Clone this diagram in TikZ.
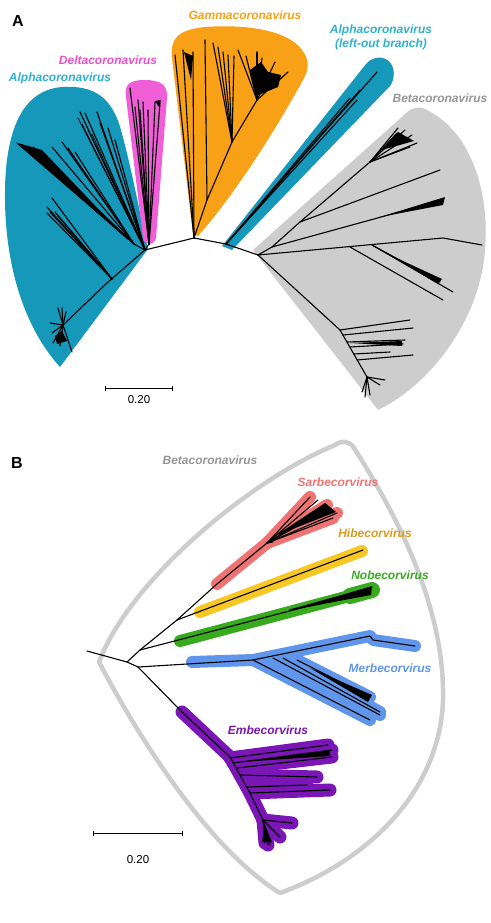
\documentclass[tikz,border=0pt]{standalone}
\usepackage{fontspec}
\setmainfont{Liberation Sans}
\usepackage{tikz}
\usetikzlibrary{positioning, arrows.meta}

\definecolor{alphateal}{RGB}{22,152,186}
\definecolor{alphatext}{RGB}{45,178,205}
\definecolor{deltapink}{RGB}{240,95,215}
\definecolor{deltatext}{RGB}{236,80,200}
\definecolor{gammaorange}{RGB}{248,160,22}
\definecolor{betagray}{RGB}{205,205,205}
\definecolor{betatext}{RGB}{150,150,150}
\definecolor{sarbered}{RGB}{240,115,115}
\definecolor{hibeyellow}{RGB}{247,200,35}
\definecolor{hibetext}{RGB}{215,155,30}
\definecolor{nobegreen}{RGB}{55,170,30}
\definecolor{merbeblue}{RGB}{95,150,235}
\definecolor{embepurple}{RGB}{122,22,182}

\begin{document}
\begin{tikzpicture}[x=1pt, y=-1pt]
    \tikzstyle{clade} = [
        font=\fontsize{12}{14}\selectfont\bfseries\itshape,
        align=center, inner sep=0pt
    ]
    \tikzstyle{panel} = [font=\fontsize{16}{18}\selectfont\bfseries, inner sep=0pt]
    \tikzstyle{branch} = [line width=1.1pt, line cap=round, line join=round]
    \tikzstyle{twig} = [line width=0.7pt, line cap=round]
    \tikzstyle{glow} = [line width=12pt, line cap=round, line join=round]
    \tikzstyle{scale_bar} = [line width=0.9pt, {Bar[width=5pt]}-{Bar[width=5pt]}]
    \tikzstyle{scale_text} = [font=\fontsize{11.5}{13}\selectfont, inner sep=0pt]

    \useasboundingbox (0,0) rectangle (490,923);

    %% Panel A
    \node[panel] (label_a) at (18,21) {A};

    % Clade shading
    \fill[alphateal] (60,367) .. controls (22,325) and (4,260) .. (5,190)
        .. controls (6,125) and (25,90) .. (62,87)
        .. controls (95,85) and (112,98) .. (121,130)
        .. controls (132,170) and (140,215) .. (148,249) -- cycle;
    \fill[deltapink] (143,238) -- (126,97) .. controls (124,84) and (130,80) .. (145,80)
        .. controls (162,80) and (168,86) .. (167,98) -- (156,238)
        .. controls (154,246) and (145,246) .. (143,238) -- cycle;
    \fill[gammaorange] (193,234) -- (172,58) .. controls (170,38) and (178,30) .. (205,27)
        .. controls (245,24) and (288,30) .. (302,50)
        .. controls (310,60) and (309,70) .. (303,80)
        .. controls (270,140) and (230,200) .. (198,236) -- cycle;
    \fill[alphateal] (222,246) -- (366,64) .. controls (374,54) and (390,56) .. (393,68)
        .. controls (395,76) and (393,82) .. (390,86) -- (232,250) -- cycle;
    \fill[betagray] (253,250) -- (403,116) .. controls (410,108) and (418,106) .. (425,109)
        .. controls (470,130) and (490,190) .. (485,250)
        .. controls (480,320) and (430,385) .. (378,410) -- cycle;

    % Clade names
    \node[clade, text=gammaorange] (gamma_name) at (245,15) {Gammacoronavirus};
    \node[clade, text=deltatext] (delta_name) at (108,60) {Deltacoronavirus};
    \node[clade, text=alphatext] (alpha_name) at (60,78) {Alphacoronavirus};
    \node[clade, text=alphatext] (alpha2_name) at (381,37) {Alphacoronavirus\\(left-out branch)};
    \node[clade, text=betatext] (beta_name) at (440,98) {Betacoronavirus};

    % Backbone
    \coordinate (a_alpha) at (145,250);
    \coordinate (a_delta) at (149,244);
    \coordinate (a_gamma) at (194,238);
    \coordinate (a_left) at (226,244);
    \coordinate (a_beta) at (258,255);
    \draw[branch] (a_alpha) -- (a_gamma) -- (a_left) -- (a_beta);
    \draw[branch] (a_alpha) -- (a_delta);

    % Alpha tree
    \coordinate (al_fan) at (134,244);
    \coordinate (al_low) at (112,279);
    \coordinate (al1) at (107,283);
    \coordinate (al2) at (63,325);
    \draw[branch] (a_alpha) -- (al1) -- (al2);
    \draw[branch] (a_alpha) -- (al_fan);
    \fill (18,143) -- (42,150) -- (128,240) -- cycle;
    \foreach \p in {(17,143),(33,147),(52,147),(62,142),(68,148),(75,152)}
        \draw[branch] (al_fan) -- \p;
    \foreach \p in {(80,112),(85,113),(97,112),(100,123),(108,128),(115,140)}
        \draw[branch] (a_alpha) -- \p;
    \foreach \p in {(78,118),(82,124),(88,130),(92,134)}
        \draw[twig] (a_alpha) -- \p;
    \foreach \p in {(52,198),(47,207),(47,213),(50,212),(55,212),(58,216)}
        \draw[branch] (al_low) -- \p;
    \foreach \p in {(58,308),(62,308),(66,312),(50,323),(52,333),(72,352),(53,343),(60,346)}
        \draw[branch] (al2) -- \p;
    \fill (55,336) -- (62,331) -- (67,341) -- (57,344) -- cycle;

    % Delta tree
    \foreach \p in {(130,88),(135,107),(138,100),(140,110),(143,102),(148,110),(155,102),(160,103)}
        \draw[branch] (a_delta) -- \p;
    \fill (155,101) -- (161,100) -- (159,107) -- cycle;

    % Gamma tree
    \coordinate (g1) at (207,200);
    \coordinate (g2) at (232,142);
    \coordinate (g3) at (257,100);
    \draw[branch] (a_gamma) -- (g1) -- (g2) -- (g3);
    \foreach \p in {(175,55),(183,50),(193,52)}
        \draw[branch] (a_gamma) -- \p;
    \fill (184,52) -- (193,56) -- (191,80) -- cycle;
    \draw[branch] (g1) -- (205,40);
    \foreach \p in {(213,43),(218,47),(223,52),(228,55),(234,56)}
        \draw[branch] (g2) -- \p;
    \foreach \p in {(238,50),(246,56),(257,52),(262,58),(275,62),(288,72)}
        \draw[branch] (g3) -- \p;
    \fill (256,96) -- (250,70) -- (261,62) -- (268,72) -- (281,75) -- (278,87) -- cycle;

    % Left-out alpha branch
    \foreach \p in {(377,72),(360,90),(357,100),(350,98)}
        \draw[branch] (a_left) -- \p;

    % Beta tree
    \coordinate (b1) at (272,247);
    \coordinate (b2) at (300,222);
    \coordinate (b3) at (370,162);
    \coordinate (b4) at (443,238);
    \coordinate (b5) at (350,247);
    \coordinate (b6) at (372,245);
    \coordinate (b7) at (340,330);
    \coordinate (b8) at (367,377);
    \draw[branch] (a_beta) -- (b1) -- (b2) -- (b3);
    \foreach \p in {(398,128),(412,135),(417,143),(410,147),(397,133),(405,130)}
        \draw[branch] (b3) -- \p;
    \fill (382,150) -- (398,132) -- (414,141) -- cycle;
    \draw[branch] (b2) -- (440,170);
    \draw[branch] (b1) -- (443,200);
    \fill (380,217) -- (445,197) -- (443,205) -- cycle;
    \draw[branch] (a_beta) -- (b4) -- (482,245);
    \draw[branch] (b5) -- (443,300);
    \draw[branch] (b6) -- (453,292);
    \draw[branch] (b6) -- (440,282);
    \fill (390,255) -- (442,279) -- (438,284) -- cycle;
    \draw[branch] (a_beta) -- (b7) -- (b8);
    \draw[branch] (340,330) -- (410,320);
    \draw[branch] (343,335) -- (413,328);
    \draw[branch] (347,342) -- (405,340);
    \draw[branch] (350,347) -- (403,344);
    \draw[branch] (354,354) -- (390,352);
    \draw[branch] (357,360) -- (413,355);
    \fill (350,343) -- (402,341) -- (402,346) -- cycle;
    \foreach \p in {(385,380),(365,397),(370,395),(380,385),(362,392)}
        \draw[branch] (b8) -- \p;

    % Scale bar A
    \coordinate (sa_left) at (105,388);
    \coordinate (sa_right) at (173,388);
    \draw[scale_bar] (sa_left) -- (sa_right) coordinate[midway] (sa_mid);
    \node[scale_text, below=7pt of sa_mid] (sa_text) {0.20};

    %% Panel B
    \node[panel] (label_b) at (17,463) {B};

    % Beta outline
    \draw[betagray, line width=4.5pt, line join=round]
        (99,662) .. controls (130,580) and (250,480) .. (335,445)
        .. controls (342,440) and (350,441) .. (354,448)
        .. controls (400,520) and (445,610) .. (443,700)
        .. controls (440,790) and (370,860) .. (280,893)
        .. controls (210,850) and (140,740) .. (99,662) -- cycle;

    % Subgenus names
    \node[clade, text=betatext] (beta_b_name) at (210,460) {Betacoronavirus};
    \node[clade, text=sarbered] (sarbe_name) at (338,482) {Sarbecorvirus};
    \node[clade, text=hibetext] (hibe_name) at (375,533) {Hibecorvirus};
    \node[clade, text=nobegreen] (nobe_name) at (390,575) {Nobecorvirus};
    \node[clade, text=merbeblue] (merbe_name) at (390,668) {Merbecorvirus};
    \node[clade, text=embepurple] (embe_name) at (268,730) {Embecorvirus};

    % Tree nodes
    \coordinate (r_stub) at (87,651);
    \coordinate (r_root) at (127,662);
    \coordinate (r_nobe) at (140,650);
    \coordinate (r_hibe) at (177,620);
    \coordinate (r_sarbe) at (217,584);
    \coordinate (r_split) at (138,667);
    \coordinate (s1) at (267,543);
    \coordinate (m1) at (253,660);
    \coordinate (m2) at (370,636);
    \coordinate (e0) at (182,712);
    \coordinate (e1) at (230,757);
    \coordinate (e2) at (240,775);
    \coordinate (e3) at (250,793);
    \coordinate (e4) at (263,820);

    % Highlights
    \draw[glow, sarbered] (r_sarbe) -- (s1) -- (310,497);
    \draw[glow, sarbered] (s1) -- (327,505);
    \draw[glow, sarbered] (s1) -- (337,513);
    \draw[glow, sarbered] (s1) -- (333,518);
    \draw[glow, hibeyellow] (200,612) -- (362,551);
    \draw[glow, nobegreen] (180,641) -- (372,590);
    \draw[glow, nobegreen, line width=16pt] (350,596) -- (372,590);
    \draw[glow, merbeblue] (192,662) -- (m1) -- (m2) -- (373,640) -- (415,646);
    \draw[glow, merbeblue] (m1) -- (370,720);
    \draw[glow, merbeblue] (273,658) -- (380,715);
    \draw[glow, merbeblue] (283,658) -- (380,712);
    \draw[glow, merbeblue] (297,660) -- (370,697);
    \draw[glow, embepurple, line width=13pt] (e0) -- (e1) -- (e2) -- (e3) -- (e4) -- (268,845);
    \foreach \a/\b in {{(230,758)}/{(328,745)}, {(233,763)}/{(332,750)}, {(237,768)}/{(332,757)},
            {(240,775)}/{(317,777)}, {(247,787)}/{(307,785)}, {(250,793)}/{(330,790)},
            {(263,820)}/{(292,823)}, {(263,820)}/{(280,837)}, {(263,820)}/{(265,843)}}
        \draw[glow, embepurple, line width=13pt] \a -- \b;

    % Branches
    \draw[branch] (r_stub) -- (r_root) -- (r_nobe) -- (r_hibe) -- (r_sarbe) -- (s1);
    \draw[branch] (r_root) -- (r_split);
    \foreach \p in {(310,497),(318,500),(327,505),(330,508),(337,513),(333,518),(273,542)}
        \draw[branch] (s1) -- \p;
    \fill (275,536) -- (325,503) -- (336,512) -- cycle;
    \draw[branch] (r_hibe) -- (363,550);
    \draw[branch] (r_nobe) -- (370,590);
    \foreach \p in {(372,587),(370,594),(366,592)}
        \draw[branch] (290,610) -- \p;
    \fill (300,608) -- (372,586) -- (371,595) -- cycle;
    \draw[branch] (r_split) -- (m1) -- (m2) -- (373,640) -- (415,646);
    \draw[branch] (m1) -- (370,720);
    \draw[branch] (273,658) -- (380,715);
    \draw[branch] (283,658) -- (380,712);
    \draw[branch] (297,660) -- (370,697);
    \fill (310,668) -- (372,695) -- (368,702) -- cycle;
    \draw[branch] (r_split) -- (e0) -- (e1) -- (e2) -- (e3) -- (e4) -- (268,845);
    \foreach \a/\b in {{(230,758)}/{(328,745)}, {(233,763)}/{(332,750)}, {(237,768)}/{(332,757)},
            {(240,775)}/{(317,777)}, {(247,787)}/{(307,785)}, {(250,793)}/{(330,790)},
            {(263,820)}/{(292,823)}, {(263,820)}/{(280,837)}, {(263,820)}/{(265,843)},
            {(263,820)}/{(270,845)}}
        \draw[branch] \a -- \b;
    \fill (240,762) -- (330,750) -- (330,756) -- cycle;
    \fill (265,825) -- (272,842) -- (262,842) -- cycle;

    % Scale bar B
    \coordinate (sb_left) at (93,833);
    \coordinate (sb_right) at (183,833);
    \draw[scale_bar] (sb_left) -- (sb_right) coordinate[midway] (sb_mid);
    \node[scale_text, below=22pt of sb_mid] (sb_text) {0.20};
\end{tikzpicture}
\end{document}
